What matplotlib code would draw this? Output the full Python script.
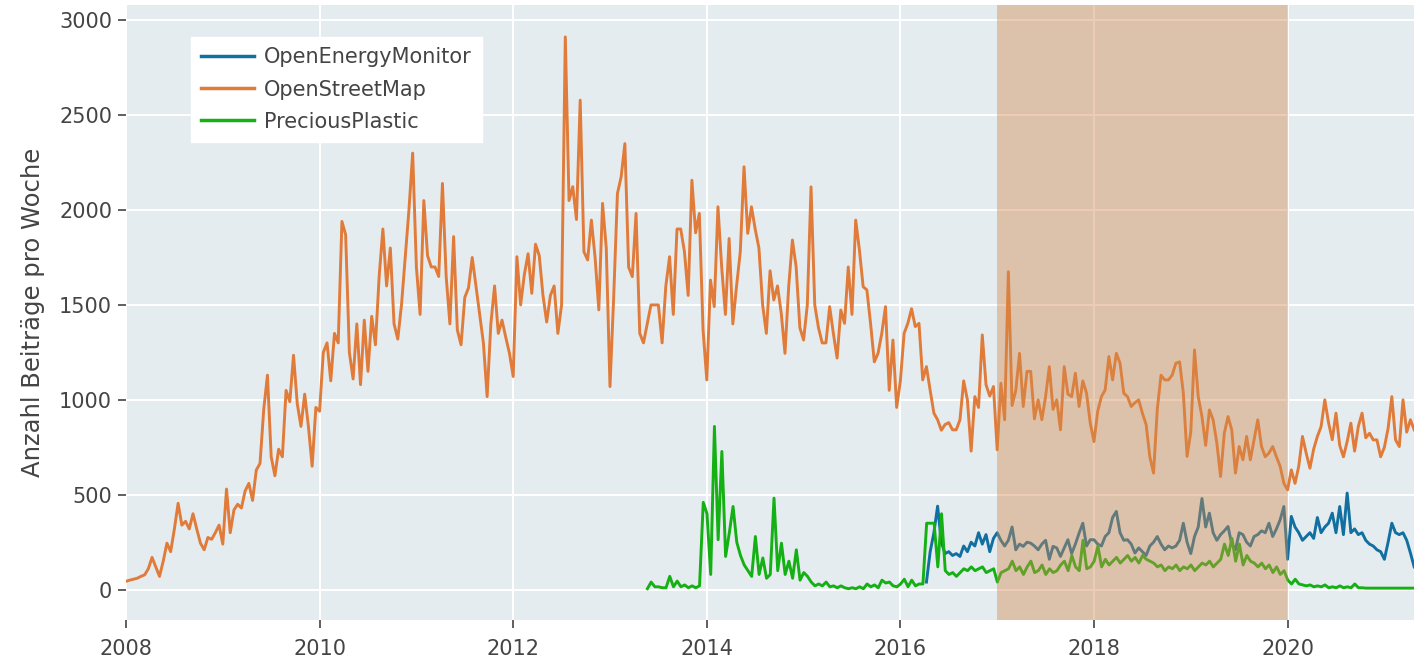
import numpy as np
import pandas as pd
import matplotlib
matplotlib.use("Agg")
import matplotlib.pyplot as plt
import matplotlib.dates as mdates

# bi-weekly contribution counts (26 samples per year)
osm_start = (2008, 0)
osm = [
    # 2008
    44, 50, 55, 60, 70, 78, 110, 170, 120, 70, 150, 245, 200, 320, 455, 340, 360, 320, 400, 320, 245, 210, 275, 265, 300, 340,
    # 2009
    240, 530, 300, 420, 450, 430, 520, 560, 470, 630, 665, 950, 1130, 700, 600, 740, 700, 1050, 990, 1235, 980, 860, 1030, 860, 650, 960,
    # 2010
    940, 1250, 1300, 1100, 1350, 1300, 1940, 1870, 1250, 1110, 1400, 1080, 1420, 1150, 1440, 1290, 1650, 1900, 1600, 1800, 1400, 1320, 1500, 1750, 2000, 2300,
    # 2011
    1700, 1450, 2050, 1760, 1700, 1700, 1650, 2140, 1650, 1400, 1860, 1368, 1290, 1540, 1590, 1750, 1600, 1450, 1300, 1017, 1400, 1600, 1350, 1420, 1330, 1245,
    # 2012
    1123, 1754, 1500, 1660, 1770, 1561, 1820, 1760, 1550, 1410, 1550, 1600, 1350, 1500, 2912, 2050, 2123, 1950, 2579, 1780, 1737, 1947, 1750, 1474, 2035, 1800,
    # 2013
    1070, 1544, 2087, 2175, 2350, 1700, 1649, 1982, 1350, 1300, 1400, 1500, 1500, 1500, 1300, 1600, 1754, 1450, 1900, 1900, 1780, 1550, 2157, 1880, 1982, 1368,
    # 2014
    1105, 1631, 1491, 2017, 1700, 1450, 1850, 1400, 1600, 1780, 2228, 1877, 2017, 1900, 1800, 1500, 1350, 1680, 1526, 1600, 1456, 1245, 1596, 1842, 1700, 1380,
    # 2015
    1315, 1500, 2122, 1500, 1380, 1300, 1300, 1491, 1350, 1220, 1473, 1403, 1700, 1450, 1947, 1789, 1596, 1579, 1400, 1200, 1245, 1350, 1491, 1050, 1315, 960,
    # 2016
    1100, 1350, 1403, 1480, 1386, 1403, 1105, 1175, 1050, 930, 895, 840, 870, 880, 842, 842, 895, 1100, 1000, 730, 1017, 960, 1342, 1080, 1020, 1070,
    # 2017
    737, 1087, 895, 1675, 970, 1050, 1245, 965, 1150, 1150, 900, 1000, 895, 1017, 1175, 950, 1000, 842, 1175, 1030, 1017, 1140, 965, 1100, 1035, 877,
    # 2018
    780, 940, 1017, 1052, 1228, 1105, 1245, 1193, 1035, 1017, 965, 985, 1000, 930, 870, 700, 614, 950, 1130, 1105, 1105, 1130, 1193, 1200, 1035, 702,
    # 2019
    830, 1263, 1017, 912, 760, 947, 895, 772, 596, 824, 912, 842, 614, 754, 684, 807, 684, 789, 895, 754, 700, 720, 754, 700, 650, 560,
    # 2020
    526, 631, 560, 650, 807, 719, 640, 740, 807, 859, 1000, 880, 790, 930, 760, 700, 780, 877, 730, 860, 930, 800, 824, 789, 789, 700,
    # 2021
    750, 850, 1017, 789, 754, 1000, 830, 895, 842,
]

pp_start = (2013, 10)
preciousplastic = [
    # 2013 (from mid-May)
    5, 40, 15, 15, 10, 10, 70, 15, 45, 15, 25, 10, 20, 10, 20, 460,
    # 2014
    400, 80, 860, 263, 728, 175, 300, 438, 250, 180, 130, 100, 70, 280, 80, 167, 60, 80, 482, 100, 245, 80, 150, 60, 210, 50,
    # 2015
    90, 70, 40, 20, 30, 20, 40, 15, 20, 10, 20, 10, 5, 10, 5, 15, 5, 30, 15, 25, 10, 50, 35, 40, 20, 15,
    # 2016
    30, 55, 15, 50, 20, 30, 30, 350, 350, 350, 120, 400, 100, 80, 90, 70, 90, 110, 100, 120, 100, 110, 120, 90, 100, 110,
    # 2017
    40, 90, 100, 110, 150, 100, 120, 80, 120, 150, 90, 100, 130, 80, 110, 90, 100, 130, 150, 100, 180, 120, 100, 260, 110, 120,
    # 2018
    150, 230, 120, 160, 130, 150, 170, 140, 160, 180, 150, 170, 140, 180, 160, 150, 140, 120, 130, 100, 120, 110, 130, 100, 120, 110,
    # 2019
    130, 100, 120, 140, 130, 150, 120, 140, 160, 240, 180, 270, 150, 240, 130, 180, 150, 140, 120, 140, 110, 130, 90, 120, 80, 100,
    # 2020
    50, 30, 55, 30, 25, 20, 25, 15, 20, 15, 25, 10, 15, 10, 20, 10, 15, 10, 30, 10, 10, 8, 8, 8, 8, 8,
    # 2021
    8, 8, 8, 8, 8, 8, 8, 8, 8,
]

oem_start = (2016, 7)
openenergymonitor = [
    # 2016 (from April)
    40, 200, 300, 440, 250, 190, 200, 180, 190, 175, 230, 200, 250, 230, 300, 240, 290, 200, 270,
    # 2017
    300, 260, 230, 260, 330, 210, 240, 228, 250, 245, 230, 210, 240, 260, 160, 228, 220, 175, 220, 263, 190, 240, 298, 350, 230, 263,
    # 2018
    263, 240, 230, 280, 300, 380, 412, 300, 260, 263, 240, 193, 220, 200, 180, 230, 250, 280, 240, 210, 230, 220, 230, 260, 350, 250,
    # 2019
    190, 280, 330, 480, 330, 403, 300, 260, 290, 310, 333, 240, 210, 300, 290, 250, 230, 280, 290, 310, 300, 350, 280, 320, 368, 438,
    # 2020
    160, 386, 330, 300, 260, 280, 300, 270, 380, 300, 330, 350, 403, 300, 438, 290, 509, 300, 320, 290, 300, 260, 240, 230, 210, 200,
    # 2021
    160, 250, 350, 300, 290, 300, 260, 193, 120,
]

highlight = ("2017-01-01", "2020-01-01")

STEP = pd.Timedelta(days=365.25 / 26)


def _dates(start, n):
    year, idx = start
    return pd.Timestamp(year=year, month=1, day=1) + (idx + np.arange(n)) * STEP


BG = "#e5ecf0"
INK = "#444444"

plt.rcParams["font.family"] = ["DejaVu Sans"]

fig = plt.figure(figsize=(14.14, 6.62), dpi=100)
ax = fig.add_axes([0.0891, 0.0634, 0.9109, 0.929])
ax.set_facecolor(BG)

ax.plot(_dates(oem_start, len(openenergymonitor)), openenergymonitor,
        color="#1170a0", lw=2.1, label="OpenEnergyMonitor", zorder=3)
ax.plot(_dates(osm_start, len(osm)), osm,
        color="#e07b39", lw=2.1, label="OpenStreetMap", zorder=3)
ax.plot(_dates(pp_start, len(preciousplastic)), preciousplastic,
        color="#14b014", lw=2.1, label="PreciousPlastic", zorder=3)

ax.axvspan(pd.Timestamp(highlight[0]), pd.Timestamp(highlight[1]),
           color="#d48a4c", alpha=0.42, lw=0, zorder=4)

ax.set_xlim(pd.Timestamp("2008-01-01"), pd.Timestamp("2021-04-22"))
ax.set_ylim(-160, 3080)
ax.set_yticks(range(0, 3001, 500))
ax.xaxis.set_major_locator(mdates.YearLocator(2))
ax.xaxis.set_major_formatter(mdates.DateFormatter("%Y"))

ax.grid(True, color="white", lw=1.4, zorder=1)
ax.set_axisbelow(True)
for s in ax.spines.values():
    s.set_visible(False)
ax.tick_params(axis="both", direction="out", length=6, width=1.2,
               color=INK, labelcolor=INK, labelsize=15)
ax.tick_params(axis="x", pad=8)
ax.tick_params(axis="y", pad=4)

ax.set_ylabel("Anzahl Beiträge pro Woche", fontsize=17.5, color=INK, labelpad=10)

leg = ax.legend(loc="upper left", bbox_to_anchor=(0.0505, 0.948),
                borderaxespad=0, fontsize=15, frameon=True, fancybox=False,
                framealpha=1, edgecolor="white", facecolor="white",
                handlelength=2.5, handletextpad=0.5, labelspacing=0.58,
                borderpad=0.5)
for t in leg.get_texts():
    t.set_color(INK)
for h in leg.get_lines():
    h.set_linewidth(2.5)
leg.set_zorder(5)

fig.savefig("out.png", dpi=100, facecolor="white")
